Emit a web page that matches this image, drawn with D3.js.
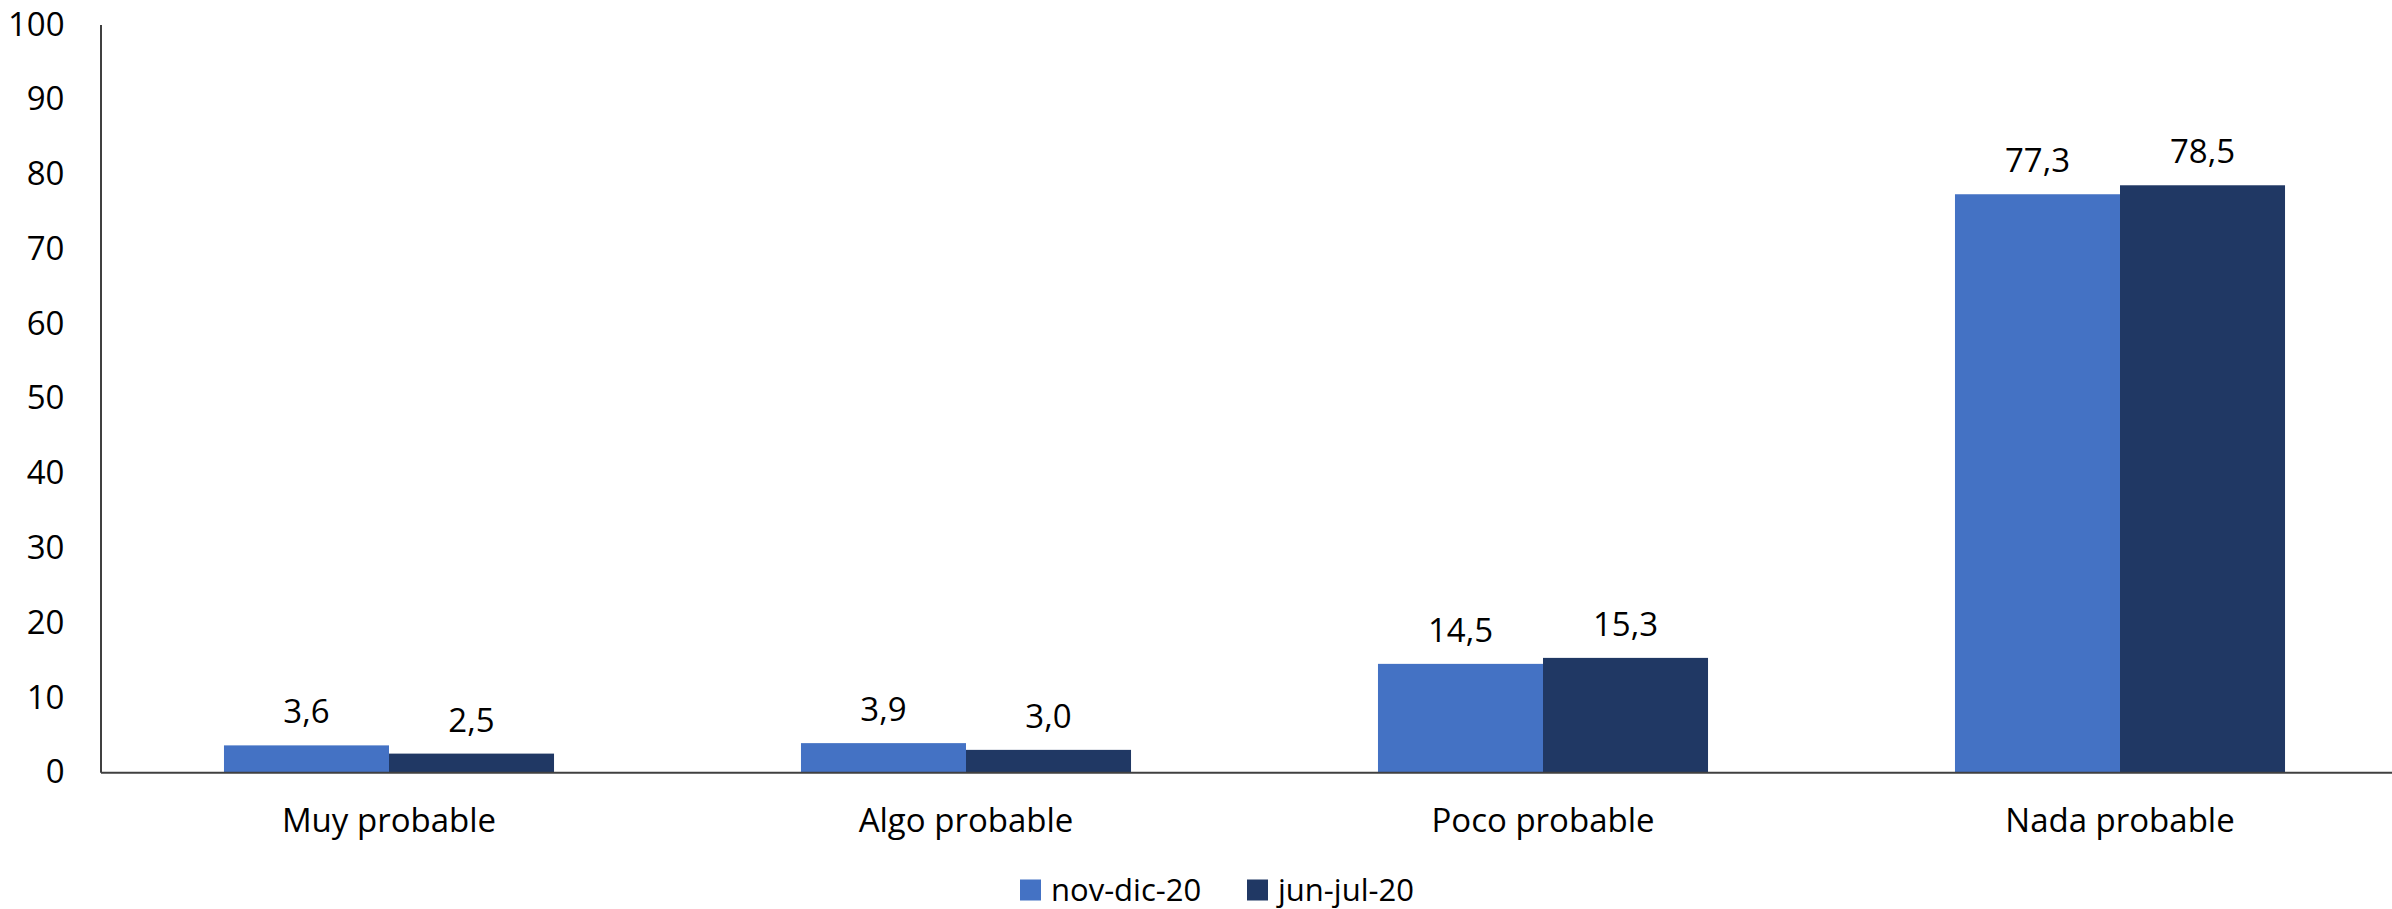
<!DOCTYPE html>
<html>
<head>
<meta charset="utf-8">
<script src="https://cdn.jsdelivr.net/npm/d3@7"></script>
<style>
	body { margin: 0; background: #fff; }
	text { font-family: "Open Sans", sans-serif; fill: #000; }
</style>
</head>
<body>
<div id="chart"></div>
<script>
const categories = ["Muy probable", "Algo probable", "Poco probable", "Nada probable"];
const seriesNames = ["nov-dic-20", "jun-jul-20"];
const novDic20 = [3.6, 3.9, 14.5, 77.3];
const junJul20 = [2.5, 3.0, 15.3, 78.5];
const yTicks = [0, 10, 20, 30, 40, 50, 60, 70, 80, 90, 100];

render();

function render() {
	const width = 2392;
	const height = 909;
	const colors = {
		series: ["#4472C4", "#203864"],
		axis: "#404040",
		text: "#000"
	};
	const margin = { top: 24.5, right: -16.5, bottom: 909 - 772.3, left: 100.5 };
	const dims = {
		fontSize: "33px",
		legendFontSize: "31px",
		barLabelGap: 22,
		legendY: 890,
		legendSwatch: 21
	};

	const svg = d3.select("#chart")
		.append("svg")
		.attr("width", width)
		.attr("height", height);

	// Scales
	const x0 = d3.scaleBand()
		.domain(categories)
		.range([margin.left, width - margin.right])
		.paddingInner(0)
		.paddingOuter(0);
	const x1 = d3.scaleBand()
		.domain(seriesNames)
		.range([0, x0.bandwidth() * 0.572])
		.padding(0);
	const y = d3.scaleLinear()
		.domain([0, 100])
		.range([height - margin.bottom, margin.top]);

	const rows = categories.map((c, i) => ({
		category: c,
		values: [
			{ key: seriesNames[0], value: novDic20[i] },
			{ key: seriesNames[1], value: junJul20[i] }
		]
	}));

	// Bars
	const groupOffset = (x0.bandwidth() - x1.range()[1]) / 2;
	const groups = svg.append("g")
		.selectAll("g")
		.data(rows)
		.enter()
		.append("g")
		.attr("transform", (d) => `translate(${x0(d.category) + groupOffset},0)`);

	groups.selectAll("rect")
		.data((d) => d.values)
		.enter()
		.append("rect")
		.attr("x", (d) => x1(d.key))
		.attr("y", (d) => y(d.value))
		.attr("width", x1.bandwidth())
		.attr("height", (d) => y(0) - y(d.value))
		.attr("fill", (d, i) => colors.series[i]);

	// Value labels
	groups.selectAll("text")
		.data((d) => d.values)
		.enter()
		.append("text")
		.text((d) => d.value.toFixed(1).replace(".", ","))
		.attr("x", (d) => x1(d.key) + x1.bandwidth() / 2)
		.attr("y", (d) => y(d.value) - dims.barLabelGap)
		.attr("text-anchor", "middle")
		.style("font-size", dims.fontSize);

	// Y axis
	const yAxis = svg.append("g")
		.attr("transform", `translate(${margin.left},0)`)
		.call(d3.axisLeft(y).tickValues(yTicks).tickSize(0).tickPadding(36));
	yAxis.select(".domain").attr("stroke", colors.axis).attr("stroke-width", 2);
	yAxis.selectAll("text")
		.style("font-size", dims.fontSize)
		.style("font-family", '"Open Sans", sans-serif')
		.attr("fill", colors.text);

	// X axis
	const xAxis = svg.append("g")
		.attr("transform", `translate(0,${y(0)})`)
		.call(d3.axisBottom(x0).tickSize(0).tickPadding(36));
	xAxis.select(".domain").attr("stroke", colors.axis).attr("stroke-width", 2);
	xAxis.selectAll("text")
		.style("font-size", dims.fontSize)
		.style("font-family", '"Open Sans", sans-serif')
		.attr("fill", colors.text);

	// Legend
	const legendX = [1020, 1247];
	const legend = svg.append("g")
		.selectAll("g")
		.data(seriesNames)
		.enter()
		.append("g")
		.attr("transform", (d, i) => `translate(${legendX[i]},${dims.legendY})`);
	legend.append("rect")
		.attr("x", 0)
		.attr("y", -dims.legendSwatch / 2)
		.attr("width", dims.legendSwatch)
		.attr("height", dims.legendSwatch)
		.attr("fill", (d, i) => colors.series[i]);
	legend.append("text")
		.text((d) => d)
		.attr("x", 31)
		.attr("y", 0)
		.attr("dy", "0.35em")
		.style("font-size", dims.legendFontSize);
}
</script>
</body>
</html>
